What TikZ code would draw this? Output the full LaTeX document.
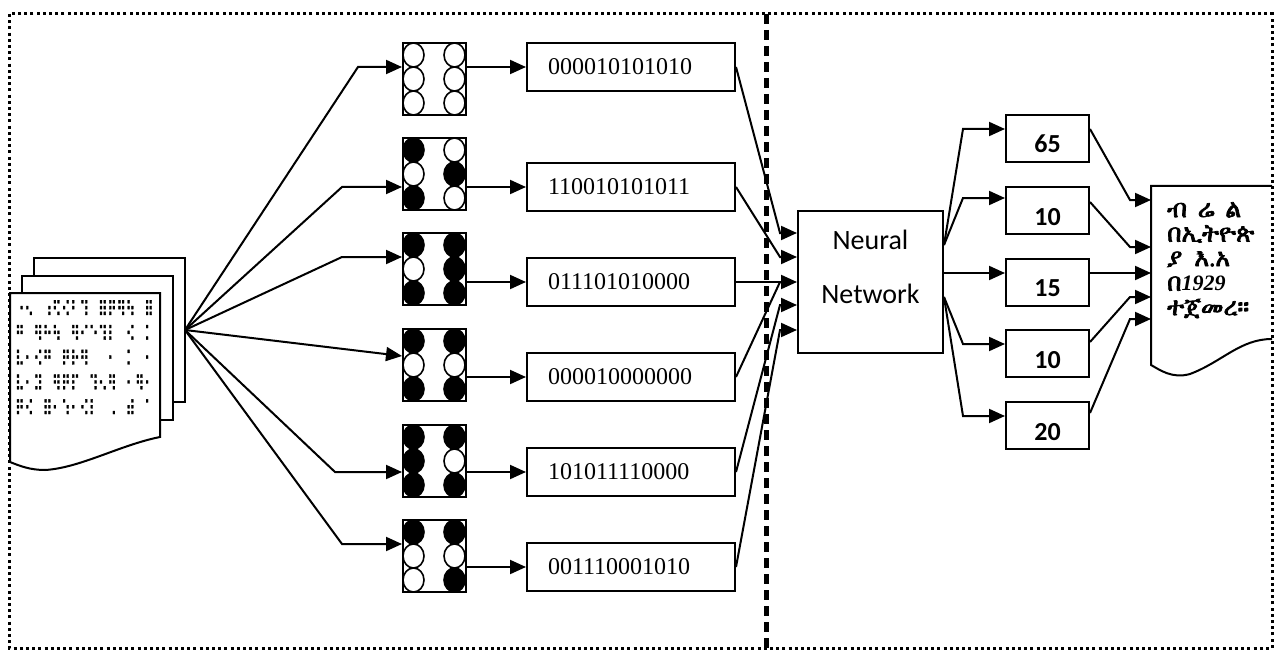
\documentclass[tikz,border=0pt]{standalone}
\usepackage{fontspec}
\setmainfont{Liberation Serif}
\newfontfamily\nnfont{Carlito}
\newfontfamily\braillefont{DejaVu Sans}[FakeStretch=0.6, FakeBold=1.5]
\IfFontExistsTF{FreeSerif}{\newfontfamily\ethfont{FreeSerif}[BoldFont={FreeSerif}, BoldFeatures={FakeBold=3}]}{\newfontfamily\ethfont{DejaVu Sans}}
\usetikzlibrary{arrows.meta,positioning}

\begin{document}
\begin{tikzpicture}[x=1pt, y=-1pt,
  cell/.style={draw, line width=2pt, minimum width=63pt, minimum height=72pt, inner sep=0pt},
  codebox/.style={draw, line width=2pt, minimum width=208pt, minimum height=48pt,
                  text width=166pt, align=left, inner xsep=21pt, inner ysep=0pt,
                  font=\fontsize{24}{28}\selectfont},
  nnbox/.style={draw, line width=2pt, minimum width=145pt, minimum height=142pt},
  outbox/.style={draw, line width=2pt, minimum width=83pt, minimum height=47pt, inner sep=0pt,
                 text height=29pt, text depth=0pt, font=\nnfont\bfseries\fontsize{26}{30}\selectfont},
  page/.style={draw, line width=2pt, fill=white},
  arr/.style={-{Triangle[length=16pt,width=14pt]}, line width=2pt},
  border/.style={line width=3pt, dash pattern=on 3pt off 3.2pt},
  divider/.style={line width=5pt, dash pattern=on 10pt off 6pt}]
\useasboundingbox (0,0) rectangle (1275,650);
\draw[page] (34,258) rectangle (185,402);
\draw[page] (22,276) rectangle (173,420);
\draw[page] (10,293) -- (160,293) -- (160,437) .. controls (120,445) and (80,468) .. (45,470)
  .. controls (30,470) and (20,466) .. (10,462) -- cycle;
\node[anchor=north west, align=left, inner sep=0pt,
      font=\braillefont\fontsize{21}{24.8}\selectfont] (brailletext) at (15,300)
  {⠐⠢⠀⠰⠫⠪⠃⠹⠀⠿⠟⠻⠳⠀⠿\\⠛⠀⠻⠓⠳⠀⠻⠊⠑⠹⠇⠀⠪⠀⠅\\⠧⠂⠪⠛⠀⠟⠗⠻⠀⠀⠂⠀⠅⠀⠂\\⠧⠂⠽⠀⠻⠟⠏⠀⠹⠢⠻⠀⠂⠻⠂\\⠟⠪⠀⠿⠂⠱⠂⠪⠇⠀⠠⠀⠾⠀⠁};
\coordinate (src) at (185,330);
\foreach \i/\yc/\pat in {1/79/{white,white,white,white,white,white},
                        2/174/{black,white,black,white,black,white},
                        3/269/{black,white,black,black,black,black},
                        4/365/{black,white,black,black,white,black},
                        5/461/{black,black,black,black,white,black},
                        6/556/{black,white,white,black,white,black}}{
  \node[cell] (c\i) at (434.5,\yc) {};
  \foreach \f [count=\k from 0] in \pat {
    \pgfmathtruncatemacro\col{\k/3}
    \pgfmathtruncatemacro\row{mod(\k,3)}
    \draw[line width=1.6pt, fill=\f] (413.5+41*\col,\yc-24+24*\row) ellipse [x radius=10.5pt, y radius=12pt];
  }
}
\foreach \i/\yb/\bits in {1/67/000010101010, 2/187/110010101011, 3/282/011101010000,
                          4/377/000010000000, 5/472/101011110000, 6/567/001110001010}{
  \node[codebox] (b\i) at (631,\yb) {\bits};
  \draw[arr] (c\i.east |- b\i.west) -- (b\i.west);
}
\foreach \i/\ex/\ey in {1/358/67, 2/342/187, 3/342/257, 5/335/472, 6/342/544}{
  \coordinate (e\i) at (\ex,\ey);
  \draw[arr] (src) -- (e\i) -- (e\i -| c\i.west);
}
\coordinate (e4) at (300,356);
\draw[arr] (src) -- (e4 -| c4.west);
\node[nnbox] (nn) at (870.5,282) {};
\node[font=\nnfont\fontsize{28}{34}\selectfont, align=center] (nnlabel) at ([yshift=15pt]nn.center) {Neural\\[20pt]Network};
\foreach \i/\ny in {1/233, 2/257, 3/282, 4/305, 5/330}
  \coordinate (n\i) at (780,\ny);
\draw[arr] (b1.east) -- (n1) -- (n1 -| nn.west);
\draw[arr] (b2.east) -- (n2) -- (n2 -| nn.west);
\draw[arr] (b3.east) -- (b3.east -| nn.west);
\draw[line width=2pt] (b4.east) -- (n3);
\draw[arr] (b5.east) -- (n4) -- (n4 -| nn.west);
\draw[arr] (b6.east) -- (n5) -- (n5 -| nn.west);
\foreach \i/\yo/\val in {1/138.5/65, 2/210.5/10, 3/282/15, 4/353.5/10, 5/425.5/20}
  \node[outbox] (o\i) at (1047.5,\yo) {\val};
\coordinate (nnA) at ([yshift=37pt]nn.east);
\coordinate (nnB) at ([yshift=9pt]nn.east);
\coordinate (nnC) at ([yshift=-15pt]nn.east);
\foreach \i/\my in {1/129, 2/198, 4/344, 5/416}
  \coordinate (m\i) at (963,\my);
\draw[arr] (nnA) -- (m1) -- (m1 -| o1.west);
\draw[arr] (nnA) -- (m2) -- (m2 -| o2.west);
\draw[arr] (nnB) -- (nnB -| o3.west);
\draw[arr] (nnC) -- (m4) -- (m4 -| o4.west);
\draw[arr] (nnC) -- (m5) -- (m5 -| o5.west);
\fill[white] (1151,186) -- (1272,186) -- (1272,339) .. controls (1240,339) and (1222,362) .. (1190,374)
  .. controls (1172,379) and (1160,370) .. (1151,365) -- cycle;
\draw[line width=2pt] (1272,186) -- (1151,186) -- (1151,365) .. controls (1160,370) and (1172,379) .. (1190,374)
  .. controls (1222,362) and (1240,339) .. (1272,339);
\coordinate (doc) at (1151,276);
\node[anchor=north west, align=left, inner sep=0pt,
      font=\ethfont\bfseries\fontsize{25}{24.5}\selectfont] (doctext) at (1167,202)
  {\makebox[74pt][s]{ብ\hfill ሬ\hfill ል}\\በኢትዮጵ\\ያ\hspace{12pt}እ.አ\\በ{\rmfamily\bfseries\itshape\fontsize{22}{24.5}\selectfont 1929}\\ተጀመረ።};
\foreach \i/\sy/\dy in {1/9.5/200, 2/8.5/247, 4/11.5/297, 5/12.5/319}{
  \coordinate (d\i) at (1130,\dy);
  \draw[arr] ([yshift=\sy pt]o\i.east) -- (d\i) -- (d\i -| doc);
}
\draw[arr] ([yshift=9pt]o3.east) -- ([yshift=9pt]o3.east -| doc);
\draw[divider] (766,14) -- (766,648);
\draw[border] (9,14) rectangle (1272,648);
\end{tikzpicture}
\end{document}
